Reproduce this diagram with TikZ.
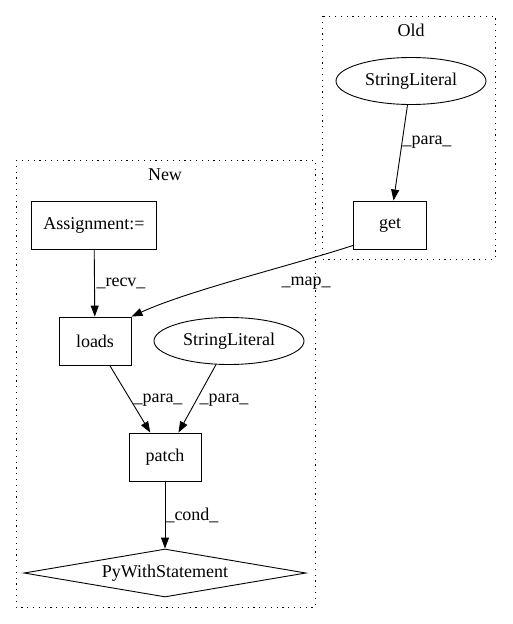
\documentclass[tikz,border=0pt]{standalone}
\usepackage{fontspec}
\setmainfont{Liberation Serif}
\usetikzlibrary{shapes.geometric,arrows.meta,positioning}

\tikzset{
  every node/.style={font=\fontsize{18}{20}\selectfont},
  box/.style={draw, rectangle, minimum height=48pt, inner sep=0pt},
  oval/.style={draw, ellipse, minimum width=150pt, minimum height=47pt, inner sep=0pt},
  diam/.style={draw, diamond, aspect=5.9, minimum width=282pt, minimum height=48pt, inner sep=0pt},
  cluster/.style={draw, dash pattern=on 1.2pt off 4.6pt},
  edge/.style={-{Triangle[length=11pt,width=8pt]}, line width=0.9pt},
  elabel/.style={inner sep=0pt}
}

\begin{document}
\begin{tikzpicture}[x=1pt, y=-1pt, line width=0.9pt]
    \useasboundingbox (0,0) rectangle (512,624);

    % clusters
    \draw[cluster] (322,16) rectangle (495,259);
    \node at (411,30) {Old};
    \draw[cluster] (16,160) rectangle (315,607);
    \node at (165,175) {New};

    % Old
    \node[oval] (oldlit) at (411,81) {StringLiteral};
    \node[box, minimum width=73pt] (get) at (390,225) {get};

    % New
    \node[box, minimum width=125pt] (assign) at (94,225) {Assignment:=};
    \node[box, minimum width=72pt] (loads) at (95,341) {loads};
    \node[oval] (newlit) at (229,341) {StringLiteral};
    \node[box, minimum width=72pt] (patch) at (165,457) {patch};
    \node[diam] (pywith) at (165,573) {PyWithStatement};

    % edges
    \draw[edge] (oldlit) -- (get);
    \node[elabel] at (427,142) {\_para\_};
    \draw[edge] (assign) -- (loads);
    \node[elabel] at (121,283) {\_recv\_};
    \draw[edge] ([yshift=4pt]get.south west) .. controls (290,266) and (190,290) .. (loads.north east);
    \node[elabel] at (306,283) {\_map\_};
    \draw[edge] (loads) -- (patch);
    \node[elabel] at (158,400) {\_para\_};
    \draw[edge] (newlit) -- (patch);
    \node[elabel] at (224,400) {\_para\_};
    \draw[edge] (patch) -- (pywith);
    \node[elabel] at (192,515) {\_cond\_};
\end{tikzpicture}
\end{document}
